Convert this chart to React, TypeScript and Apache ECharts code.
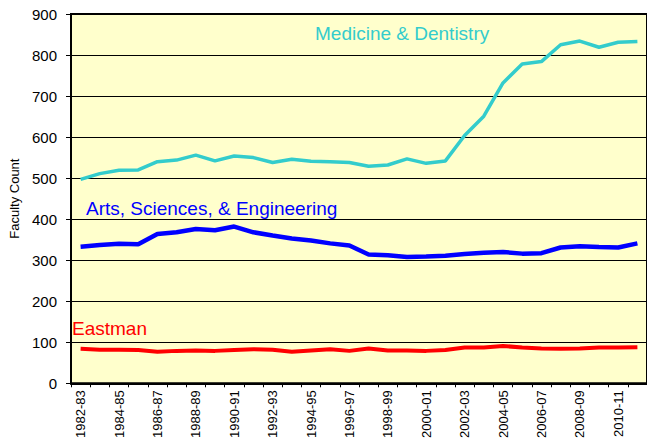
import React, { useEffect, useRef } from "react";
import * as echarts from "echarts";

const categories = [
  "1982-83", "1983-84", "1984-85", "1985-86", "1986-87", "1987-88", "1988-89", "1989-90",
  "1990-91", "1991-92", "1992-93", "1993-94", "1994-95", "1995-96", "1996-97", "1997-98",
  "1998-99", "1999-00", "2000-01", "2001-02", "2002-03", "2003-04", "2004-05", "2005-06",
  "2006-07", "2007-08", "2008-09", "2009-10", "2010-11", "2011-12",
];

const medicine = [
  497, 511, 519, 520, 540, 544, 556, 542, 554, 550, 538, 546, 541, 540, 538, 529,
  532, 547, 536, 542, 604, 651, 732, 778, 784, 825, 834, 819, 831, 833,
];

const arts = [
  333, 337, 340, 339, 364, 368, 376, 373, 382, 368, 360, 353, 348, 341, 336, 314,
  312, 308, 309, 311, 315, 318, 320, 316, 317, 331, 334, 332, 331, 341,
];

const eastman = [
  84, 82, 82, 81, 77, 79, 80, 79, 81, 83, 82, 77, 80, 83, 79, 85,
  80, 80, 79, 81, 87, 87, 91, 87, 85, 84, 85, 87, 87, 88,
];

const seriesNames = ["Medicine & Dentistry", "Arts, Sciences, & Engineering", "Eastman"];
const colors = ["#33CCCC", "#0000FF", "#FF0000"];

export default function App() {
  const ref = useRef<HTMLDivElement>(null);
  useEffect(() => {
    if (!ref.current) return;
    const chart = echarts.init(ref.current, undefined, { renderer: "svg" });
    const font = "Arial, 'Liberation Sans', sans-serif";
    chart.setOption({
      animation: false,
      textStyle: { fontFamily: font },
      grid: {
        left: 69,
        top: 14,
        right: -2,
        bottom: 56,
        show: true,
        backgroundColor: "#FFFFCC",
        borderColor: "#000",
        borderWidth: 2,
      },
      xAxis: {
        type: "category",
        data: categories,
        boundaryGap: true,
        axisLine: { lineStyle: { color: "#000", width: 2 } },
        axisTick: { show: true, interval: 0, length: 4, lineStyle: { color: "#000" } },
        axisLabel: {
          interval: 1,
          rotate: 90,
          fontSize: 13,
          color: "#000",
          fontFamily: font,
          margin: 7,
        },
      },
      yAxis: {
        type: "value",
        min: 0,
        max: 900,
        interval: 100,
        name: "Faculty Count",
        nameLocation: "middle",
        nameGap: 50,
        nameTextStyle: { fontSize: 13, color: "#000", fontFamily: font },
        axisLine: { show: true, lineStyle: { color: "#000", width: 2 } },
        axisTick: { show: true, length: 5, lineStyle: { color: "#000" } },
        axisLabel: { fontSize: 15, color: "#000", fontFamily: font, margin: 14 },
        splitLine: { show: true, lineStyle: { color: "#000", width: 1 } },
      },
      graphic: [
        {
          type: "text",
          left: 315,
          top: 24,
          style: { text: seriesNames[0], fill: colors[0], fontSize: 19, fontFamily: font },
        },
        {
          type: "text",
          left: 86,
          top: 199,
          style: { text: seriesNames[1], fill: colors[1], fontSize: 19, fontFamily: font },
        },
        {
          type: "text",
          left: 72,
          top: 319,
          style: { text: seriesNames[2], fill: colors[2], fontSize: 19, fontFamily: font },
        },
      ],
      series: [
        { name: seriesNames[0], data: medicine, color: colors[0], width: 3.5 },
        { name: seriesNames[1], data: arts, color: colors[1], width: 4.5 },
        { name: seriesNames[2], data: eastman, color: colors[2], width: 4 },
      ].map((s) => ({
        type: "line",
        name: s.name,
        data: s.data,
        symbol: "none",
        smooth: false,
        lineStyle: { color: s.color, width: s.width },
        itemStyle: { color: s.color },
      })),
    });
    return () => chart.dispose();
  }, []);
  return <div ref={ref} style={{ width: 647, height: 441, position: "absolute", left: 0, top: 0 }} />;
}
